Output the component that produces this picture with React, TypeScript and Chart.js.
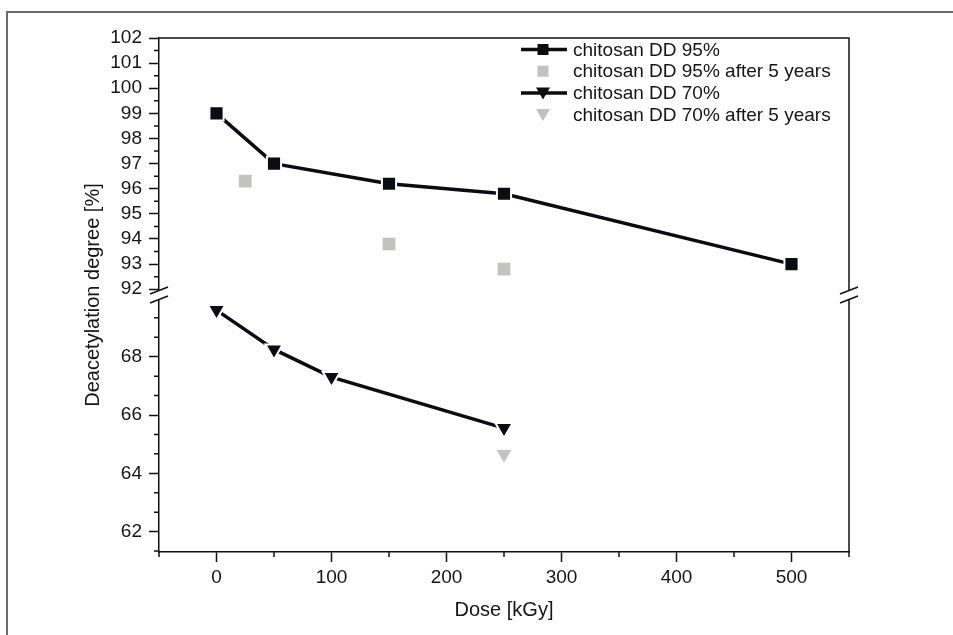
import { useEffect, useRef } from 'react';
import { Chart, registerables } from 'chart.js';

Chart.register(...registerables);

// Dose [kGy] and deacetylation degree [%] for each series
const doseDD95 = [0, 50, 150, 250, 500];
const degreeDD95 = [99.0, 97.0, 96.2, 95.8, 93.0];
const doseDD95Aged = [25, 150, 250];
const degreeDD95Aged = [96.3, 93.8, 92.8];
const doseDD70 = [0, 50, 100, 250];
const degreeDD70 = [69.6, 68.25, 67.3, 65.55];
const doseDD70Aged = [250];
const degreeDD70Aged = [64.65];

const seriesLabels = [
  'chitosan DD 95%',
  'chitosan DD 95% after 5 years',
  'chitosan DD 70%',
  'chitosan DD 70% after 5 years',
];

// Axis ticks
const xTicks = [0, 100, 200, 300, 400, 500];
const xMinorTicks = [-50, 50, 150, 250, 350, 450, 550];
const yUpperTicks = [92, 93, 94, 95, 96, 97, 98, 99, 100, 101, 102];
const yUpperMinorTicks = [92.5, 93.5, 94.5, 95.5, 96.5, 97.5, 98.5, 99.5, 100.5, 101.5];
const yLowerTicks = [62, 64, 66, 68];
const yLowerMinorTicks = [61.333, 62.667, 63.333, 64.667, 65.333, 66.667, 67.333, 68.667, 69.333];

const INK = '#0b0b14';
const GREY = '#c2c2c0';
const AXIS = '#111111';
const TEXT = '#151515';
const FONT = 'Arial, "Liberation Sans", sans-serif';

const pts = (xs: number[], ys: number[]) => xs.map((x, i) => ({ x, y: ys[i] }));

export default function App() {
  const canvasRef = useRef<HTMLCanvasElement | null>(null);

  useEffect(() => {
    const canvas = canvasRef.current;
    if (!canvas) return;

    const decorations = {
      id: 'decorations',
      afterDraw(chart: any) {
        const ctx = chart.ctx as CanvasRenderingContext2D;
        const area = chart.chartArea;
        const xs = chart.scales.x;
        const yHi = chart.scales.yHigh;
        const yLo = chart.scales.yLow;
        ctx.save();

        // figure frame (top and left edges)
        ctx.strokeStyle = '#6a6a6a';
        ctx.lineWidth = 2;
        ctx.beginPath();
        ctx.moveTo(7, 640);
        ctx.lineTo(7, 12);
        ctx.lineTo(960, 12);
        ctx.stroke();

        // plot box: top and right edges
        ctx.strokeStyle = AXIS;
        ctx.lineWidth = 1.5;
        ctx.beginPath();
        ctx.moveTo(area.left, area.top);
        ctx.lineTo(area.right, area.top);
        ctx.lineTo(area.right, area.bottom);
        ctx.stroke();

        // minor ticks
        ctx.lineWidth = 1.5;
        ctx.beginPath();
        for (const v of xMinorTicks) {
          const px = xs.getPixelForValue(v);
          ctx.moveTo(px, area.bottom);
          ctx.lineTo(px, area.bottom + 5);
        }
        for (const v of yUpperMinorTicks) {
          const py = yHi.getPixelForValue(v);
          ctx.moveTo(area.left, py);
          ctx.lineTo(area.left - 5, py);
        }
        for (const v of yLowerMinorTicks) {
          const py = yLo.getPixelForValue(v);
          ctx.moveTo(area.left, py);
          ctx.lineTo(area.left - 5, py);
        }
        ctx.stroke();

        // axis break marks on both vertical edges
        const by = yHi.bottom - 0.5;
        for (const ax of [area.left, area.right]) {
          ctx.fillStyle = '#ffffff';
          ctx.fillRect(ax - 2, by - 4, 4, 8);
          ctx.strokeStyle = AXIS;
          ctx.lineWidth = 1.5;
          ctx.beginPath();
          ctx.moveTo(ax - 9, by - 1);
          ctx.lineTo(ax + 9, by - 8);
          ctx.moveTo(ax - 9, by + 8);
          ctx.lineTo(ax + 9, by + 1);
          ctx.stroke();
        }

        // vertical axis title, centred over both stacked scales
        ctx.fillStyle = TEXT;
        ctx.font = `20px ${FONT}`;
        ctx.textAlign = 'center';
        ctx.textBaseline = 'middle';
        ctx.translate(93, (area.top + area.bottom) / 2);
        ctx.rotate(-Math.PI / 2);
        ctx.fillText('Deacetylation degree [%]', 0, 0);
        ctx.setTransform(1, 0, 0, 1, 0, 0);

        // legend
        const lx = 543;
        const ly0 = 49.5;
        const dy = 21.7;
        ctx.textAlign = 'left';
        ctx.font = `19px ${FONT}`;
        seriesLabels.forEach((label, i) => {
          const y = ly0 + i * dy;
          const filled = i % 2 === 0;
          if (filled) {
            ctx.strokeStyle = INK;
            ctx.lineWidth = 3.5;
            ctx.beginPath();
            ctx.moveTo(lx - 22, y);
            ctx.lineTo(lx + 24, y);
            ctx.stroke();
          }
          ctx.fillStyle = filled ? INK : GREY;
          if (i < 2) {
            ctx.fillRect(lx - 5.5, y - 5.5, 11, 11);
          } else {
            ctx.beginPath();
            ctx.moveTo(lx - 7, y - 5.5);
            ctx.lineTo(lx + 7, y - 5.5);
            ctx.lineTo(lx, y + 6.5);
            ctx.closePath();
            ctx.fill();
          }
          ctx.fillStyle = TEXT;
          ctx.fillText(label, 573, y + 1);
        });

        ctx.restore();
      },
    };

    const tickFont = { family: FONT, size: 19 };
    const yTicks = { font: tickFont, color: TEXT, padding: 7, autoSkip: false };

    const chart = new Chart(canvas, {
      type: 'line',
      data: {
        datasets: [
          {
            label: seriesLabels[0],
            data: pts(doseDD95, degreeDD95),
            yAxisID: 'yHigh',
            borderColor: INK,
            borderWidth: 3.5,
            backgroundColor: INK,
            pointStyle: 'rect',
            pointRadius: 10,
            pointBorderColor: '#ffffff',
            pointBorderWidth: 2,
            pointBackgroundColor: INK,
          },
          {
            label: seriesLabels[1],
            data: pts(doseDD95Aged, degreeDD95Aged),
            yAxisID: 'yHigh',
            showLine: false,
            pointStyle: 'rect',
            pointRadius: 9,
            pointBorderWidth: 0,
            pointBackgroundColor: GREY,
          },
          {
            label: seriesLabels[2],
            data: pts(doseDD70, degreeDD70),
            yAxisID: 'yLow',
            borderColor: INK,
            borderWidth: 3.5,
            backgroundColor: INK,
            pointStyle: 'triangle',
            rotation: 180,
            pointRadius: 10,
            pointBorderColor: '#ffffff',
            pointBorderWidth: 2,
            pointBackgroundColor: INK,
          },
          {
            label: seriesLabels[3],
            data: pts(doseDD70Aged, degreeDD70Aged),
            yAxisID: 'yLow',
            showLine: false,
            pointStyle: 'triangle',
            rotation: 180,
            pointRadius: 8.5,
            pointBorderWidth: 0,
            pointBackgroundColor: GREY,
          },
        ],
      },
      options: {
        animation: false,
        responsive: true,
        maintainAspectRatio: false,
        layout: { padding: { left: 89, top: 38, right: 104, bottom: 0 } },
        plugins: {
          legend: { display: false },
          tooltip: { enabled: false },
        },
        scales: {
          x: {
            type: 'linear',
            position: 'bottom',
            min: -50,
            max: 550,
            afterBuildTicks: (s: any) => {
              s.ticks = xTicks.map((v) => ({ value: v }));
            },
            afterFit: (s: any) => {
              s.height = 83;
            },
            grid: { drawOnChartArea: false, tickLength: 10, tickWidth: 1.5, tickColor: AXIS },
            border: { color: AXIS, width: 1.5 },
            ticks: { font: tickFont, color: TEXT, padding: 4, maxRotation: 0, autoSkip: false },
            title: {
              display: true,
              text: 'Dose [kGy]',
              font: { family: FONT, size: 20 },
              color: TEXT,
              padding: { top: 0, bottom: 13 },
            },
          },
          yLow: {
            type: 'linear',
            position: 'left',
            stack: 'degree',
            stackWeight: 257,
            min: 61.3,
            max: 70.1,
            afterBuildTicks: (s: any) => {
              s.ticks = yLowerTicks.map((v) => ({ value: v }));
            },
            afterFit: (s: any) => {
              s.width = 70;
            },
            grid: { drawOnChartArea: false, tickLength: 10, tickWidth: 1.5, tickColor: AXIS },
            border: { color: AXIS, width: 1.5 },
            ticks: yTicks,
          },
          yHigh: {
            type: 'linear',
            position: 'left',
            stack: 'degree',
            stackWeight: 258,
            min: 91.75,
            max: 102,
            afterBuildTicks: (s: any) => {
              s.ticks = yUpperTicks.map((v) => ({ value: v }));
            },
            afterFit: (s: any) => {
              s.width = 70;
            },
            grid: { drawOnChartArea: false, tickLength: 10, tickWidth: 1.5, tickColor: AXIS },
            border: { color: AXIS, width: 1.5 },
            ticks: yTicks,
          },
        },
      },
      plugins: [decorations],
    } as any);

    return () => chart.destroy();
  }, []);

  return (
    <div
      style={{
        position: 'fixed',
        left: 0,
        top: 0,
        width: '953px',
        height: '635px',
        background: '#ffffff',
      }}
    >
      <canvas ref={canvasRef} />
    </div>
  );
}
